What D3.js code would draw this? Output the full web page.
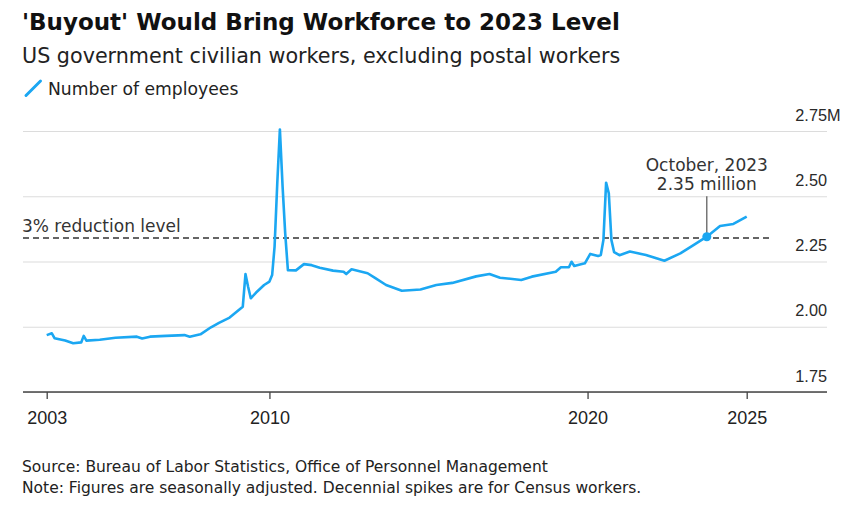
<!DOCTYPE html>
<html>
  <head>
    <meta charset="UTF-8">
    <title>Buyout workforce</title>
    <style>
    html { background-color: white; }
    body { margin: 0; }
    svg { display: block; font-family: 'DejaVu Sans', sans-serif; }
    .title { font-size: 23px; font-weight: bold; fill: #111; }
    .subtitle { font-size: 20.7px; fill: #222; }
    .legend { font-size: 17.2px; fill: #222; }
    .note { font-size: 15.5px; fill: #222; }
    .axis text { font-size: 16.3px; fill: #2a2a2a; }
    .xaxis text { font-size: 18px; fill: #222; }
    .annot { font-size: 17px; fill: #333; }
    </style>
  </head>

  <body>
  <script src="https://d3js.org/d3.v7.min.js"></script>
  <script>
  // Federal civilian employees excluding postal, millions
  var months = ['2003-01','2003-03','2003-04','2003-08','2003-11','2004-02','2004-03','2004-04',
    '2004-09','2005-03','2005-11','2006-01','2006-04','2006-10','2007-05','2007-07','2007-11',
    '2008-03','2008-06','2008-10','2009-03','2009-04','2009-05','2009-06','2009-08','2009-11',
    '2010-01','2010-02','2010-03','2010-04','2010-05','2010-06','2010-07','2010-08','2010-11',
    '2011-02','2011-05','2011-08','2012-01','2012-05','2012-06','2012-08','2013-02','2013-05',
    '2013-09','2014-03','2014-10','2015-04','2015-10','2016-07','2016-12','2017-04','2017-12',
    '2018-04','2019-01','2019-03','2019-06','2019-07','2019-08','2019-12','2020-02','2020-05',
    '2020-06','2020-07','2020-08','2020-09','2020-10','2020-11','2021-01','2021-05','2021-11',
    '2022-06','2022-12','2023-05','2023-10','2024-03','2024-08','2025-01'];
  var employees = [1.968,1.975,1.956,1.947,1.937,1.940,1.965,1.947,
    1.950,1.958,1.962,1.955,1.962,1.965,1.968,1.962,1.971,
    1.998,2.015,2.035,2.077,2.202,2.153,2.109,2.131,2.160,
    2.173,2.198,2.307,2.550,2.756,2.537,2.358,2.217,2.216,
    2.240,2.236,2.226,2.215,2.211,2.202,2.220,2.205,2.186,
    2.160,2.138,2.143,2.160,2.168,2.193,2.202,2.188,2.179,
    2.192,2.211,2.228,2.228,2.249,2.233,2.243,2.279,2.271,
    2.275,2.332,2.552,2.511,2.332,2.286,2.274,2.288,2.275,
    2.253,2.281,2.313,2.345,2.386,2.394,2.422];

  var xTickYears = [2003, 2010, 2020, 2025];
  var yTicks = [1.75, 2.00, 2.25, 2.50, 2.75];
  var reductionLevel = 2.34;
  var calloutMonth = '2023-10';
  var calloutLines = ['October, 2023', '2.35 million'];

  var width = 848, height = 515;
  var plotLeft = 23, plotRight = 827, plotTop = 131, plotBottom = 392;

  var parse = d3.timeParse('%Y-%m');
  var data = months.map(function (m, i) { return { date: parse(m), value: employees[i] }; });

  var svg = d3.select('body').append('svg').attr('width', width).attr('height', height);

  // x: 2003 -> 46.7px, 2025 -> 746.7px
  var x = d3.scaleTime()
    .domain([new Date(2003, 0, 1), new Date(2025, 0, 1)])
    .range([46.7, 746.7]);
  var y = d3.scaleLinear().domain([1.75, 2.75]).range([plotBottom, plotTop]);

  // Titles
  svg.append('text').attr('class', 'title').attr('x', 22).attr('y', 29.5)
    .text("'Buyout' Would Bring Workforce to 2023 Level");
  svg.append('text').attr('class', 'subtitle').attr('x', 22).attr('y', 63)
    .text('US government civilian workers, excluding postal workers');
  svg.append('line').attr('x1', 26).attr('y1', 95.5).attr('x2', 40.5).attr('y2', 81)
    .attr('stroke', '#1ba7f2').attr('stroke-width', 3).attr('stroke-linecap', 'round');
  svg.append('text').attr('class', 'legend').attr('x', 48).attr('y', 95)
    .text('Number of employees');

  // Y axis on the right, gridlines across, labels sitting above lines
  var yAxis = svg.append('g').attr('class', 'axis')
    .attr('transform', 'translate(' + plotRight + ',0)')
    .call(d3.axisRight(y).tickValues(yTicks).tickSize(-(plotRight - plotLeft))
      .tickFormat(d3.format('.2f')));
  yAxis.select('.domain').remove();
  yAxis.selectAll('.tick line').attr('stroke', '#dcdcdc').attr('stroke-width', 1.2);
  yAxis.selectAll('.tick text')
    .attr('x', 0).attr('dy', -11).attr('text-anchor', 'end');
  // top label gets the "M" hanging past the numbers
  yAxis.selectAll('.tick text').filter(function (d) { return d === 2.75; })
    .each(function () {
      var w = this.getComputedTextLength();
      d3.select(this).attr('text-anchor', 'start').attr('x', -w).text('2.75M');
    });

  // X axis
  var xAxis = svg.append('g').attr('class', 'xaxis')
    .attr('transform', 'translate(0,' + plotBottom + ')')
    .call(d3.axisBottom(x)
      .tickValues(xTickYears.map(function (yr) { return new Date(yr, 0, 1); }))
      .tickSize(7).tickPadding(12).tickFormat(d3.timeFormat('%Y')));
  xAxis.select('.domain').remove();
  xAxis.selectAll('.tick line').attr('stroke', '#444').attr('stroke-width', 1.3);
  svg.append('line').attr('x1', plotLeft).attr('x2', plotRight)
    .attr('y1', plotBottom).attr('y2', plotBottom)
    .attr('stroke', '#444').attr('stroke-width', 1.6);

  // 3% reduction level
  svg.append('line')
    .attr('x1', plotLeft).attr('x2', 770)
    .attr('y1', y(reductionLevel)).attr('y2', y(reductionLevel))
    .attr('stroke', '#333').attr('stroke-width', 1.6).attr('stroke-dasharray', '6,4');
  svg.append('text').attr('class', 'annot').attr('x', 22).attr('y', y(reductionLevel) - 6)
    .text('3% reduction level');

  // Series line
  var line = d3.line().x(function (d) { return x(d.date); }).y(function (d) { return y(d.value); });
  svg.append('path').datum(data)
    .attr('fill', 'none').attr('stroke', '#1ba7f2').attr('stroke-width', 2.6)
    .attr('stroke-linejoin', 'round').attr('d', line);

  // Callout
  var c = data.filter(function (d) { return d3.timeFormat('%Y-%m')(d.date) === calloutMonth; })[0];
  svg.append('line').attr('x1', x(c.date)).attr('x2', x(c.date))
    .attr('y1', y(2.5)).attr('y2', y(c.value))
    .attr('stroke', '#555').attr('stroke-width', 1.2);
  svg.append('circle').attr('cx', x(c.date)).attr('cy', y(c.value)).attr('r', 4.5)
    .attr('fill', '#1ba7f2');
  svg.selectAll('.callout').data(calloutLines).enter().append('text')
    .attr('class', 'annot').attr('text-anchor', 'middle')
    .attr('x', x(c.date)).attr('y', function (d, i) { return 171 + i * 19; })
    .text(function (d) { return d; });

  // Footer
  svg.append('text').attr('class', 'note').attr('x', 22).attr('y', 472)
    .text('Source: Bureau of Labor Statistics, Office of Personnel Management');
  svg.append('text').attr('class', 'note').attr('x', 22).attr('y', 493)
    .text('Note: Figures are seasonally adjusted. Decennial spikes are for Census workers.');
  </script>
  </body>
</html>
